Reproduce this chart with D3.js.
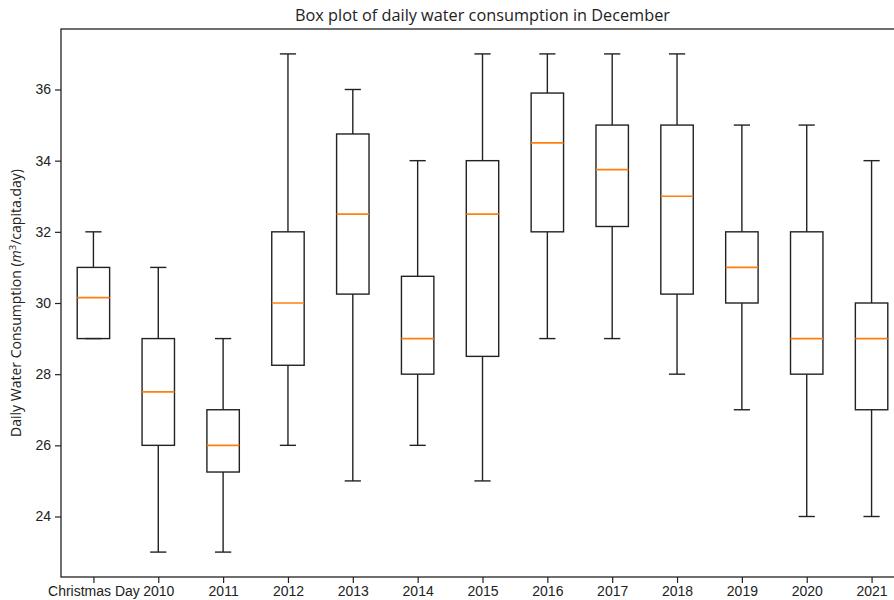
<!DOCTYPE html>
<html>
<head>
<meta charset="utf-8">
<script src="https://cdn.jsdelivr.net/npm/d3@7"></script>
<style>
  body { margin: 0; background: #fff; }
  svg { display: block; font-family: "Open Sans", sans-serif; }
</style>
</head>
<body>
<div id="chart"></div>
<script>
let width = 894;
let height = 600;
let margin = {top: 29, right: -10, bottom: 23, left: 61};

// box statistics
let labels = ["Christmas Day", "2010", "2011", "2012", "2013", "2014", "2015", "2016", "2017", "2018", "2019", "2020", "2021"];
let whiskerLow  = [29, 23, 23,    26,    25,    26,    25,   29,    29,    28,    27, 24, 24];
let q1          = [29, 26, 25.25, 28.25, 30.25, 28,    28.5, 32,    32.15, 30.25, 30, 28, 27];
let median      = [30.15, 27.5, 26, 30,  32.5,  29,    32.5, 34.5,  33.75, 33,    31, 29, 29];
let q3          = [31, 29, 27,    32,    34.75, 30.75, 34,   35.9,  35,    35,    32, 32, 30];
let whiskerHigh = [32, 31, 29,    37,    36,    34,    37,   37,    37,    37,    35, 35, 34];
let yTicks = [24, 26, 28, 30, 32, 34, 36];

let boxes = labels.map((d, i) => ({
	label: d, pos: i + 1,
	lo: whiskerLow[i], q1: q1[i], med: median[i], q3: q3[i], hi: whiskerHigh[i]
}));

let svg = d3.select("#chart")
	.append("svg")
	.attr("width", width).attr("height", height);

let x = d3.scaleLinear().domain([0.5, labels.length + 0.5]).range([margin.left, width - margin.right]);
let y = d3.scaleLinear().domain([22.3, 37.7]).range([height - margin.bottom, margin.top]);
let boxW = x(1.25) - x(1);
let capW = x(1.125) - x(1);

// frame
svg.append("rect")
	.attr("x", x.range()[0]).attr("y", y.range()[1])
	.attr("width", x.range()[1] - x.range()[0]).attr("height", y.range()[0] - y.range()[1])
	.attr("fill", "none").attr("stroke", "#222").attr("stroke-width", 1.3);

let yAxis = svg.append("g")
	.attr("transform", `translate(${x.range()[0]},0)`)
	.call(d3.axisLeft(y).tickValues(yTicks).tickSize(6).tickPadding(4));
let xAxis = svg.append("g")
	.attr("transform", `translate(0,${y.range()[0]})`)
	.call(d3.axisBottom(x).tickValues(boxes.map(d => d.pos)).tickFormat((d, i) => labels[i]).tickSize(6).tickPadding(3));
[yAxis, xAxis].forEach(a => {
	a.select(".domain").remove();
	a.selectAll("line").attr("stroke", "#222").attr("stroke-width", 1.2);
	a.selectAll("text").attr("fill", "#222").style("font-size", "14px");
});

let g = svg.selectAll(".box").data(boxes)
	.join("g").attr("class", "box")
	.attr("transform", d => `translate(${x(d.pos)},0)`);

// whiskers
g.append("line").attr("y1", d => y(d.q3)).attr("y2", d => y(d.hi));
g.append("line").attr("y1", d => y(d.q1)).attr("y2", d => y(d.lo));
// caps
g.append("line").attr("x1", -capW).attr("x2", capW).attr("y1", d => y(d.hi)).attr("y2", d => y(d.hi));
g.append("line").attr("x1", -capW).attr("x2", capW).attr("y1", d => y(d.lo)).attr("y2", d => y(d.lo));
g.selectAll("line").attr("stroke", "#222").attr("stroke-width", 1.4);

g.append("rect")
	.attr("x", -boxW).attr("width", 2 * boxW)
	.attr("y", d => y(d.q3)).attr("height", d => y(d.q1) - y(d.q3))
	.attr("fill", "none").attr("stroke", "#222").attr("stroke-width", 1.4);

g.append("line")
	.attr("x1", -boxW).attr("x2", boxW)
	.attr("y1", d => y(d.med)).attr("y2", d => y(d.med))
	.attr("stroke", "#ff7f0e").attr("stroke-width", 1.7);

svg.append("text")
	.attr("x", (x.range()[0] + x.range()[1]) / 2).attr("y", 21)
	.attr("text-anchor", "middle")
	.style("font-size", "16.3px").attr("fill", "#222")
	.text("Box plot of daily water consumption in December");

let yl = svg.append("text")
	.attr("transform", `translate(21,${(y.range()[0] + y.range()[1]) / 2}) rotate(-90)`)
	.attr("text-anchor", "middle")
	.style("font-size", "14px").attr("fill", "#222");
yl.append("tspan").text("Daily Water Consumption (");
yl.append("tspan").attr("font-style", "italic").text("m");
yl.append("tspan").attr("dy", -5).style("font-size", "9.5px").text("3");
yl.append("tspan").attr("dy", 5).text("/capita.day)");
</script>
</body>
</html>
